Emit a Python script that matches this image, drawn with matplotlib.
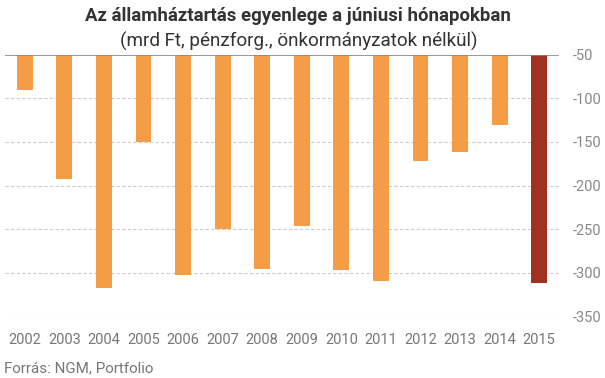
import matplotlib
matplotlib.use("Agg")
import matplotlib.pyplot as plt

# Data: June budget balance (bn HUF)
years = ["2002", "2003", "2004", "2005", "2006", "2007", "2008",
         "2009", "2010", "2011", "2012", "2013", "2014", "2015"]
balance = [-90, -192, -317, -150, -303, -250, -296,
           -246, -297, -310, -172, -162, -131, -312]
y_ticks = [-50, -100, -150, -200, -250, -300, -350]

orange = "#F59C46"
dark_red = "#A13121"
colors = [orange] * (len(years) - 1) + [dark_red]

plt.rcParams["font.family"] = ["Roboto", "DejaVu Sans"]

fig = plt.figure(figsize=(6.05, 3.78), dpi=100)
ax = fig.add_axes([5 / 605, 1 - 316.3 / 378, 554 / 605, (316.3 - 54.7) / 378])

x = list(range(len(years)))
base = -50
ax.bar(x, [v - base for v in balance], bottom=base, width=0.4,
       color=colors, zorder=3)

ax.set_xlim(-0.5, len(years) - 0.5)
ax.set_ylim(-350, -50)
ax.set_yticks(y_ticks)
ax.set_yticklabels([str(t) for t in y_ticks])
ax.yaxis.tick_right()
ax.tick_params(axis="y", length=0, pad=10, labelsize=10.5, labelcolor="#888888")
ax.set_xticks(x)
ax.set_xticklabels(years)
ax.tick_params(axis="x", length=0, pad=12, labelsize=10.5, labelcolor="#777777")

for t in y_ticks[1:]:
    ax.axhline(t, color="#CCCCCC", lw=0.8, ls=(0, (3, 2)), zorder=1)
ax.axhline(-50, color="#888888", lw=1.2, zorder=4)

for s in ax.spines.values():
    s.set_visible(False)

fig.text(298 / 605, 1 - 16 / 378, "Az államháztartás egyenlege a júniusi hónapokban",
         ha="center", va="center", fontsize=13.4, fontweight="bold",
         color="#333333")
fig.text(299 / 605, 1 - 41 / 378, "(mrd Ft, pénzforg., önkormányzatok nélkül)",
         ha="center", va="center", fontsize=13.6, color="#333333")
fig.text(4 / 605, 1 - 368 / 378, "Forrás: NGM, Portfolio",
         ha="left", va="center", fontsize=10.9, color="#777777")

fig.savefig("out.png", dpi=100)
